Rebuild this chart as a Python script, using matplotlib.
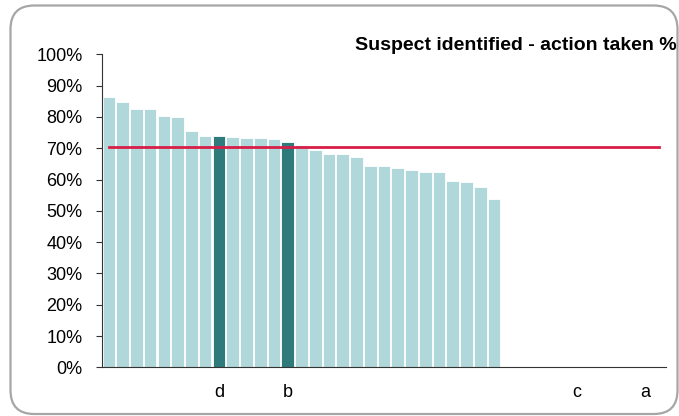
import numpy as np
import matplotlib.pyplot as plt
from matplotlib.patches import FancyBboxPatch

plt.rcParams['font.family'] = ['Liberation Sans', 'DejaVu Sans']

# 41 category slots, only the first 29 carry a value
values = [86.3, 84.8, 82.5, 82.5, 80.4, 79.9, 75.6, 74.0, 73.8, 73.5,
          73.2, 73.2, 72.9, 71.9, 70.9, 69.4, 68.1, 68.0, 67.1, 64.4,
          64.3, 63.7, 63.0, 62.4, 62.3, 59.4, 59.2, 57.7, 53.7]
n_slots = 41
labels = [''] * n_slots
labels[8] = 'd'
labels[13] = 'b'
labels[34] = 'c'
labels[39] = 'a'
highlight = [8, 13]
target = 70.4

light = '#b0d7d9'
dark = '#2f7a7a'

fig = plt.figure(figsize=(6.79, 4.16), dpi=100)
ax = fig.add_axes([0.1502, 0.117, 0.8307, 0.7525])

x = np.arange(len(values))
colors = [dark if i in highlight else light for i in x]
ax.bar(x, values, width=0.92, color=colors, edgecolor='white', linewidth=0.6)
ax.plot([0, n_slots - 1], [target, target], color='#d81e48', linewidth=2)

ax.set_xlim(-0.5, n_slots - 0.5)
ax.set_ylim(0, 100)
ax.set_yticks(np.arange(0, 101, 10))
ax.set_yticklabels([f'{v}%' for v in range(0, 101, 10)], fontsize=13)
ax.set_xticks(np.arange(n_slots))
ax.set_xticklabels(labels, fontsize=13)
ax.tick_params(axis='x', length=0, pad=12)
ax.tick_params(axis='y', length=4, width=0.8, pad=10, color='#333333')
for s in ['top', 'right']:
    ax.spines[s].set_visible(False)
ax.spines['left'].set_color('#333333')
ax.spines['bottom'].set_color('#333333')
ax.spines['left'].set_linewidth(0.8)
ax.spines['bottom'].set_linewidth(0.8)

fig.text(0.523, 1 - 50.5 / 416, 'Suspect identified - action taken %',
         fontsize=14, fontweight='bold', ha='left', va='baseline')

# rounded grey frame round the whole chart
frame = FancyBboxPatch((10.5 / 679, 2 / 416), 667 / 679, 408.5 / 416,
                       boxstyle='round,pad=0,rounding_size=0.035',
                       transform=fig.transFigure, fill=False,
                       edgecolor='#a6a6a6', linewidth=1.6,
                       mutation_aspect=679 / 416)
fig.patches.append(frame)

fig.savefig('out.png', dpi=100)
